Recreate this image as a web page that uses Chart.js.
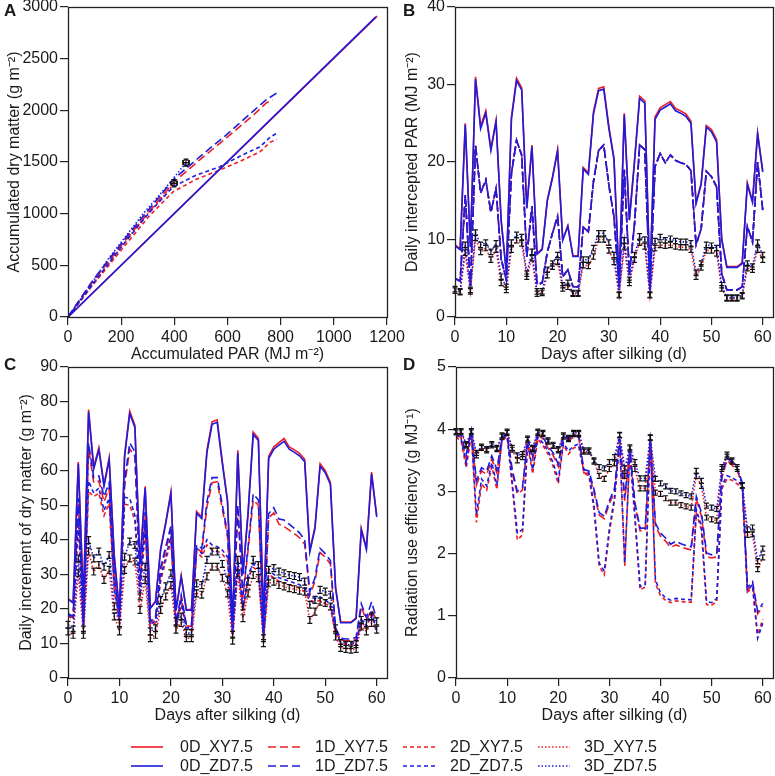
<!DOCTYPE html>
<html>
<head>
<meta charset="utf-8">
<script src="https://cdn.jsdelivr.net/npm/chart.js@4.4.0/dist/chart.umd.min.js"></script>
<style>
html, body { margin: 0; padding: 0; background: #fff; overflow: hidden; }
body { width: 775px; height: 776px; position: relative; font-family: "Liberation Sans", Arial, sans-serif; color: #1a1a1a; }
canvas { position: absolute; }
.tag { position: absolute; font-weight: bold; font-size: 17px; line-height: 20px; }
.leg-text { position: absolute; font-size: 16px; line-height: 18px; white-space: nowrap; }
.leg-line { position: absolute; }
</style>
</head>
<body>
<canvas id="chartA" width="420" height="373" style="left:0px;top:-5px"></canvas>
<canvas id="chartB" width="403" height="373" style="left:387px;top:-5px"></canvas>
<canvas id="chartC" width="420" height="374" style="left:0px;top:355px"></canvas>
<canvas id="chartD" width="403" height="374" style="left:387px;top:355px"></canvas>
<div class="tag" style="left:4px;top:1px">A</div>
<div class="tag" style="left:403px;top:1px">B</div>
<div class="tag" style="left:4px;top:355px">C</div>
<div class="tag" style="left:403px;top:355px">D</div>
<div id="legend"></div>
<script>
// Days after silking (x values for panels B, C, D)
const days = [0, 1, 2, 3, 4, 5, 6, 7, 8, 9, 10, 11, 12, 13, 14, 15, 16, 17, 18, 19, 20,
    21, 22, 23, 24, 25, 26, 27, 28, 29, 30, 31, 32, 33, 34, 35, 36, 37, 38, 39, 40,
    41, 42, 43, 44, 45, 46, 47, 48, 49, 50, 51, 52, 53, 54, 55, 56, 57, 58, 59, 60];
const dayTicks = [0, 10, 20, 30, 40, 50, 60];

// Panel A: accumulated PAR (x) and accumulated dry matter (y)
const accPar_0D_ZD = [0, 1158];
const accDm_0D_ZD = [0, 2905];
const accPar_0D_XY = [0, 1163];
const accDm_0D_XY = [0, 2912];
const accPar_1D_ZD = [0, 95, 221, 309, 396, 500, 597, 700, 745, 786];
const accDm_1D_ZD = [0, 360, 780, 1055, 1330, 1560, 1765, 2000, 2100, 2170];
const accPar_1D_XY = [0, 95, 221, 309, 396, 500, 597, 700, 745, 770];
const accDm_1D_XY = [0, 350, 760, 1030, 1300, 1530, 1735, 1960, 2070, 2100];
const accPar_2D_ZD = [0, 95, 221, 309, 396, 480, 572, 650, 723, 760, 792];
const accDm_2D_ZD = [0, 326, 745, 1019, 1261, 1370, 1455, 1560, 1648, 1740, 1787];
const accPar_2D_XY = [0, 95, 221, 309, 396, 480, 572, 650, 723, 760, 785];
const accDm_2D_XY = [0, 315, 713, 987, 1213, 1330, 1423, 1510, 1600, 1690, 1719];
const accPar_3D_ZD = [0, 158, 284, 371, 444];
const accDm_3D_ZD = [0, 584, 1003, 1261, 1494];
const accPar_3D_XY = [0, 158, 284, 350, 399];
const accDm_3D_XY = [0, 535, 955, 1140, 1294];
const obsPar = [399, 444];
const obsDm = [1294, 1494];

// Panel B: daily intercepted PAR
const parB_0D_ZD = [9.2, 8.7, 24.8, 9.0, 30.7, 24.3, 26.3, 21.5, 25.2, 12.4, 5.8, 25.5, 30.5, 29.3, 14.0, 22.0, 8.1, 8.7, 15.0, 17.9, 21.4,
    9.9, 11.7, 7.8, 7.8, 19.1, 18.4, 26.2, 29.2, 29.4, 24.3, 20.3, 4.5, 26.1, 12.5, 20.0, 28.2, 27.6, 4.5, 25.5, 26.7,
    27.1, 27.5, 26.6, 26.3, 25.9, 25.0, 14.6, 17.1, 24.5, 23.9, 22.6, 10.0, 6.4, 6.4, 6.4, 6.9, 17.1, 14.8, 23.6, 18.7];
const parB_0D_XY = [9.3, 8.8, 25.0, 9.1, 31.0, 24.6, 26.6, 21.7, 25.4, 12.5, 5.9, 25.8, 30.8, 29.6, 14.1, 22.2, 8.2, 8.8, 15.1, 18.1, 21.6,
    10.0, 11.8, 7.9, 7.9, 19.3, 18.6, 26.5, 29.5, 29.7, 24.6, 20.5, 4.5, 26.3, 12.6, 20.2, 28.5, 27.9, 4.5, 25.8, 27.0,
    27.4, 27.8, 26.9, 26.6, 26.2, 25.3, 14.8, 17.3, 24.7, 24.2, 22.9, 10.1, 6.5, 6.5, 6.5, 7.0, 17.3, 15.0, 23.8, 18.9];
const parB_1D2D = [5.0, 4.6, 15.7, 4.0, 22.1, 16.0, 17.7, 13.5, 16.6, 7.5, 4.8, 18.5, 22.8, 20.9, 7.8, 14.3, 4.2, 4.4, 8.4, 10.8, 13.0,
    5.2, 6.1, 3.9, 3.9, 11.6, 11.0, 17.5, 21.5, 22.2, 17.0, 12.9, 3.8, 19.0, 5.5, 12.0, 22.2, 21.6, 3.5, 19.4, 21.1,
    19.9, 20.9, 20.2, 19.9, 19.7, 18.9, 9.3, 11.4, 18.8, 18.1, 16.8, 5.6, 3.5, 3.5, 3.5, 3.9, 11.7, 9.7, 20.0, 13.8];
const parB_3D_ZD = [3.6, 3.3, 9.3, 3.5, 10.9, 9.3, 9.6, 8.4, 9.5, 5.2, 3.9, 9.6, 10.6, 10.3, 5.6, 8.4, 3.3, 3.3, 6.1, 6.9, 8.0,
    4.1, 4.4, 3.1, 3.1, 7.4, 7.4, 8.9, 10.8, 10.8, 9.6, 8.0, 2.9, 9.9, 4.8, 8.0, 10.4, 10.0, 2.9, 9.8, 10.3,
    9.9, 10.1, 9.8, 9.7, 9.7, 9.5, 5.7, 6.9, 9.3, 9.2, 8.9, 4.1, 2.5, 2.5, 2.5, 2.8, 6.9, 6.5, 9.6, 8.0];
const parB_3D_XY = [3.4, 3.2, 8.3, 3.3, 10.2, 8.4, 8.9, 7.4, 8.7, 4.4, 3.5, 8.7, 9.9, 9.5, 5.2, 7.6, 3.0, 3.1, 5.4, 6.5, 7.1,
    3.7, 3.9, 3.0, 3.0, 6.7, 6.6, 7.8, 10.0, 10.0, 8.6, 7.1, 2.8, 9.1, 4.4, 7.4, 9.6, 9.1, 2.8, 8.9, 9.3,
    9.2, 9.3, 9.1, 9.0, 9.0, 8.7, 5.2, 6.4, 8.6, 8.6, 8.2, 3.7, 2.4, 2.4, 2.4, 2.7, 6.3, 6.1, 8.7, 7.4];
const seB = 0.35;

// Panel C: daily increment of dry matter
const dmC_0D_ZD = [22.8, 21.7, 62.0, 22.0, 77.0, 60.5, 66.0, 55.5, 63.2, 35.0, 19.0, 64.0, 76.5, 72.5, 33.0, 55.0, 20.1, 22.0, 37.0, 44.7, 53.3,
    19.5, 29.3, 19.6, 19.6, 47.7, 46.1, 65.2, 73.4, 74.0, 62.0, 51.0, 16.0, 65.2, 30.0, 47.5, 70.5, 68.7, 17.0, 63.5, 66.2,
    67.4, 68.5, 66.2, 65.3, 64.3, 62.6, 36.5, 43.2, 61.3, 59.4, 56.0, 26.0, 16.0, 16.0, 16.0, 17.2, 42.9, 37.2, 59.0, 46.6];
const dmC_0D_XY = [23.0, 21.9, 62.5, 22.2, 77.7, 61.1, 66.7, 56.0, 63.8, 35.3, 19.2, 64.6, 77.2, 73.2, 33.3, 55.5, 20.3, 22.2, 37.4, 45.2, 53.9,
    19.7, 29.6, 19.8, 19.8, 48.2, 46.6, 65.9, 74.1, 74.7, 62.6, 51.5, 16.2, 65.9, 30.3, 48.0, 71.2, 69.4, 17.2, 64.2, 66.9,
    68.1, 69.3, 66.9, 66.0, 65.0, 63.3, 36.9, 43.7, 62.0, 60.0, 56.6, 26.3, 16.2, 16.2, 16.2, 17.4, 43.3, 37.6, 59.6, 47.0];
const dmC_1D_ZD = [18.7, 17.8, 52.0, 16.0, 68.0, 58.0, 58.5, 52.5, 56.5, 30.0, 17.5, 57.0, 68.0, 65.5, 28.0, 48.0, 16.5, 17.5, 32.0, 38.0, 44.0,
    16.0, 24.0, 15.5, 15.5, 38.5, 37.5, 51.0, 58.0, 58.0, 50.0, 42.0, 14.0, 50.0, 24.0, 38.0, 53.3, 51.5, 13.0, 47.5, 49.3,
    46.0, 45.7, 44.5, 43.3, 42.0, 40.0, 25.0, 29.0, 37.5, 36.0, 34.0, 14.5, 11.5, 11.3, 11.3, 11.8, 21.5, 17.5, 22.0, 17.0];
const dmC_1D_XY = [18.3, 17.4, 50.5, 15.6, 66.5, 56.5, 57.0, 51.0, 55.0, 29.0, 17.0, 55.5, 66.3, 64.0, 27.2, 46.8, 16.0, 17.0, 31.0, 37.0, 42.8,
    15.5, 23.3, 15.0, 15.0, 37.5, 36.5, 49.5, 56.5, 56.8, 48.8, 41.0, 13.6, 48.5, 23.2, 37.0, 51.5, 50.0, 12.6, 46.3, 47.8,
    44.5, 43.8, 42.8, 41.8, 40.6, 38.7, 24.0, 28.0, 36.3, 35.0, 33.0, 14.0, 11.0, 10.8, 10.8, 11.3, 20.5, 16.8, 19.6, 16.8];
const dmC_2D_ZD = [18.5, 17.3, 46.0, 15.5, 57.0, 53.5, 55.0, 48.5, 52.0, 26.0, 16.5, 52.3, 52.0, 47.0, 25.0, 44.0, 15.5, 16.5, 29.0, 35.0, 41.0,
    15.0, 22.0, 14.5, 14.5, 37.5, 36.0, 40.0, 38.5, 38.0, 37.0, 35.0, 13.0, 34.0, 20.0, 30.0, 33.0, 32.0, 12.0, 31.0, 30.0,
    29.0, 28.5, 28.0, 27.5, 27.0, 26.0, 23.5, 23.0, 23.5, 22.5, 21.5, 13.5, 10.5, 10.3, 10.3, 10.5, 17.0, 15.0, 19.5, 13.5];
const dmC_2D_XY = [18.0, 17.0, 44.0, 15.0, 54.0, 52.5, 53.5, 47.0, 50.5, 25.0, 16.0, 50.3, 50.0, 45.5, 24.0, 42.5, 15.0, 16.0, 28.0, 34.0, 39.5,
    14.5, 21.2, 14.0, 14.0, 36.5, 35.0, 38.5, 37.0, 36.8, 35.8, 34.0, 12.5, 32.8, 19.3, 29.0, 32.0, 31.0, 11.6, 30.0, 29.0,
    28.0, 27.5, 27.0, 26.5, 26.0, 25.0, 22.5, 22.0, 22.5, 21.5, 20.5, 13.0, 10.0, 9.8, 9.8, 10.0, 16.2, 14.4, 18.5, 13.0];
const dmC_3D_ZD = [15.4, 14.0, 34.6, 14.0, 39.9, 34.6, 36.6, 32.2, 35.6, 20.7, 15.9, 35.1, 39.5, 38.5, 23.6, 32.2, 13.5, 14.4, 22.6, 26.5, 30.3,
    16.4, 17.8, 13.0, 13.0, 27.4, 26.9, 34.2, 36.6, 36.6, 33.0, 28.5, 12.5, 34.2, 20.7, 27.9, 34.2, 32.7, 11.5, 31.3, 31.8,
    30.8, 30.3, 29.8, 29.5, 29.2, 27.9, 21.2, 22.6, 25.5, 25.0, 24.1, 14.4, 10.1, 9.6, 9.6, 9.8, 16.8, 15.9, 17.8, 16.4];
const dmC_3D_XY = [13.5, 12.5, 30.3, 12.5, 36.6, 30.8, 32.7, 28.4, 31.3, 17.8, 13.5, 31.3, 34.6, 33.7, 19.7, 28.4, 11.5, 12.5, 19.7, 23.6, 26.9,
    14.0, 15.9, 11.5, 11.5, 24.5, 24.1, 29.4, 32.2, 32.2, 29.0, 24.5, 10.8, 30.3, 17.3, 24.5, 29.8, 28.9, 10.1, 27.4, 27.9,
    26.9, 26.5, 26.0, 25.7, 25.3, 25.0, 16.8, 19.2, 22.1, 21.7, 20.7, 12.0, 8.7, 8.4, 8.2, 8.4, 14.9, 13.5, 15.9, 14.0];
const seC = 1.0;

// Panel D: radiation use efficiency
const rueD_1D_ZD = [3.95, 3.90, 3.60, 3.97, 3.17, 3.38, 3.33, 3.57, 3.35, 3.87, 3.92, 3.35, 3.00, 3.06, 3.84, 3.57, 3.92, 3.87, 3.73, 3.62, 3.44,
    3.89, 3.84, 3.89, 3.89, 3.35, 3.33, 3.03, 2.66, 2.60, 2.85, 3.05, 3.85, 2.90, 3.70, 2.82, 2.41, 2.41, 3.84, 2.49, 2.33,
    2.25, 2.15, 2.20, 2.16, 2.13, 2.11, 2.92, 2.66, 2.01, 1.98, 2.01, 3.27, 3.54, 3.46, 3.38, 3.14, 1.45, 1.55, 1.07, 1.20];
const rueD_1D_XY = [3.92, 3.86, 3.52, 3.95, 3.10, 3.33, 3.27, 3.52, 3.30, 3.85, 3.90, 3.30, 2.96, 3.02, 3.82, 3.52, 3.90, 3.85, 3.70, 3.58, 3.40,
    3.87, 3.82, 3.87, 3.87, 3.30, 3.28, 2.98, 2.62, 2.56, 2.80, 3.00, 3.83, 2.85, 3.67, 2.77, 2.37, 2.37, 3.82, 2.44, 2.28,
    2.20, 2.10, 2.14, 2.11, 2.08, 2.06, 2.88, 2.60, 1.95, 1.93, 1.95, 3.22, 3.50, 3.42, 3.34, 3.10, 1.40, 1.50, 1.03, 1.15];
const rueD_2D_ZD = [3.92, 3.84, 3.45, 3.95, 2.62, 3.20, 3.09, 3.46, 3.10, 3.85, 3.90, 3.14, 2.33, 2.39, 3.78, 3.35, 3.87, 3.78, 3.65, 3.46, 3.19,
    3.78, 3.65, 3.73, 3.76, 3.35, 3.30, 2.76, 1.85, 1.72, 2.40, 2.90, 3.82, 1.85, 3.65, 2.60, 1.47, 1.50, 3.82, 1.58, 1.37,
    1.29, 1.25, 1.28, 1.27, 1.26, 1.26, 2.71, 2.44, 1.23, 1.21, 1.28, 3.09, 3.25, 3.22, 3.17, 3.09, 1.42, 1.50, 0.64, 0.88];
const rueD_2D_XY = [3.88, 3.80, 3.38, 3.92, 2.50, 3.12, 3.02, 3.40, 3.03, 3.82, 3.88, 3.08, 2.22, 2.30, 3.75, 3.28, 3.84, 3.74, 3.60, 3.40, 3.12,
    3.75, 3.60, 3.70, 3.72, 3.30, 3.25, 2.70, 1.80, 1.66, 2.34, 2.85, 3.80, 1.80, 3.62, 2.55, 1.42, 1.46, 3.80, 1.52, 1.32,
    1.25, 1.21, 1.24, 1.23, 1.22, 1.22, 2.65, 2.38, 1.18, 1.17, 1.23, 3.04, 3.20, 3.18, 3.12, 3.05, 1.38, 1.45, 0.70, 0.95];
const rueD_3D_ZD = [3.97, 3.97, 3.76, 3.97, 3.62, 3.72, 3.68, 3.76, 3.70, 3.90, 3.96, 3.70, 3.58, 3.60, 3.85, 3.70, 3.96, 3.94, 3.82, 3.75, 3.68,
    3.90, 3.86, 3.94, 3.94, 3.66, 3.66, 3.50, 3.39, 3.37, 3.47, 3.55, 3.91, 3.37, 3.71, 3.47, 3.21, 3.21, 3.87, 3.20, 3.13,
    3.08, 3.01, 3.00, 2.97, 2.94, 2.92, 3.33, 3.17, 2.77, 2.74, 2.72, 3.39, 3.59, 3.50, 3.39, 3.10, 2.39, 2.42, 1.88, 2.08];
const rueD_3D_XY = [3.95, 3.95, 3.74, 3.95, 3.58, 3.70, 3.66, 3.74, 3.68, 3.88, 3.94, 3.67, 3.50, 3.55, 3.83, 3.68, 3.94, 3.92, 3.80, 3.73, 3.66,
    3.88, 3.84, 3.92, 3.92, 3.64, 3.64, 3.48, 3.25, 3.20, 3.36, 3.45, 3.90, 3.25, 3.69, 3.36, 3.05, 3.05, 3.86, 2.98, 2.96,
    2.89, 2.82, 2.82, 2.78, 2.76, 2.74, 3.25, 3.09, 2.58, 2.55, 2.53, 3.36, 3.56, 3.48, 3.36, 3.09, 2.30, 2.31, 1.75, 1.94];
const seD = 0.04;

// Colours and line styles
const red = '#ee1c24';
const blue = '#1c1ce0';
const dashes = { solid: [], long: [8, 4], short: [4, 3], dotted: [1.5, 2] };

Chart.defaults.font.family = '"Liberation Sans", Arial, sans-serif';
Chart.defaults.font.size = 16;
Chart.defaults.color = '#1a1a1a';

function dayPoints(values) {
    return days.map((d, i) => ({ x: d, y: values[i] }));
}

function pairPoints(xs, ys) {
    return xs.map((x, i) => ({ x: x, y: ys[i] }));
}

function lineSet(label, points, color, dash, extra) {
    return Object.assign({
        label: label,
        data: points,
        borderColor: color,
        backgroundColor: color,
        borderWidth: 1.6,
        borderDash: dashes[dash],
        pointRadius: 0,
        fill: false,
        tension: 0
    }, extra || {});
}

// Linear axis with fixed thickness so plot areas line up with the reference
function axis(horizontal, min, max, step, title, titlePad, size, tickValues) {
    return {
        type: 'linear',
        min: min,
        max: max,
        ticks: {
            stepSize: step,
            autoSkip: false,
            maxRotation: 0,
            padding: horizontal ? 3 : 2,
            color: '#1a1a1a',
            callback: v => String(v)
        },
        grid: { drawOnChartArea: false, drawTicks: true, tickLength: 8, color: '#222', lineWidth: 1.2 },
        border: { display: false },
        title: {
            display: true,
            text: title,
            color: '#1a1a1a',
            font: { size: 16 },
            padding: horizontal ? { top: 0, bottom: titlePad } : { top: titlePad, bottom: 0 }
        },
        afterFit(scale) {
            if (horizontal) scale.height = size; else scale.width = size;
        },
        afterBuildTicks(scale) {
            if (tickValues) scale.ticks = tickValues.map(v => ({ value: v }));
        }
    };
}

// Box around the plotting area
const framePlugin = {
    id: 'frame',
    afterDraw(chart) {
        const { left, top, right, bottom } = chart.chartArea;
        const ctx = chart.ctx;
        ctx.save();
        ctx.strokeStyle = '#222';
        ctx.lineWidth = 1.3;
        ctx.setLineDash([]);
        ctx.strokeRect(Math.round(left) + 0.5, Math.round(top) + 0.5, Math.round(right - left), Math.round(bottom - top));
        ctx.restore();
    }
};

// Black error bars for datasets that carry errY / errX
const errorBarPlugin = {
    id: 'errorBars',
    afterDatasetsDraw(chart) {
        const ctx = chart.ctx;
        const xs = chart.scales.x;
        const ys = chart.scales.y;
        ctx.save();
        ctx.strokeStyle = '#111';
        ctx.lineWidth = 1.2;
        ctx.setLineDash([]);
        chart.data.datasets.forEach(ds => {
            if (!ds.errY && !ds.errX) return;
            ds.data.forEach(p => {
                const px = xs.getPixelForValue(p.x);
                const py = ys.getPixelForValue(p.y);
                ctx.beginPath();
                if (ds.errY) {
                    const y1 = ys.getPixelForValue(p.y - ds.errY);
                    const y2 = ys.getPixelForValue(p.y + ds.errY);
                    ctx.moveTo(px, y1); ctx.lineTo(px, y2);
                    ctx.moveTo(px - 2.5, y1); ctx.lineTo(px + 2.5, y1);
                    ctx.moveTo(px - 2.5, y2); ctx.lineTo(px + 2.5, y2);
                }
                if (ds.errX) {
                    const x1 = xs.getPixelForValue(p.x - ds.errX);
                    const x2 = xs.getPixelForValue(p.x + ds.errX);
                    ctx.moveTo(x1, py); ctx.lineTo(x2, py);
                    ctx.moveTo(x1, py - 2.5); ctx.lineTo(x1, py + 2.5);
                    ctx.moveTo(x2, py - 2.5); ctx.lineTo(x2, py + 2.5);
                }
                ctx.stroke();
            });
        });
        ctx.restore();
    }
};

function makeChart(id, datasets, xAxis, yAxis, padRight) {
    return new Chart(document.getElementById(id), {
        type: 'line',
        data: { datasets: datasets },
        options: {
            responsive: false,
            animation: false,
            layout: { padding: { top: 12, right: padRight, bottom: 0, left: 0 } },
            scales: { x: xAxis, y: yAxis },
            plugins: { legend: { display: false }, tooltip: { enabled: false } }
        },
        plugins: [framePlugin, errorBarPlugin]
    });
}

// Panel A (blue datasets first so they are drawn on top)
makeChart('chartA', [
    lineSet('0D_ZD7.5', pairPoints(accPar_0D_ZD, accDm_0D_ZD), blue, 'solid'),
    lineSet('1D_ZD7.5', pairPoints(accPar_1D_ZD, accDm_1D_ZD), blue, 'long'),
    lineSet('2D_ZD7.5', pairPoints(accPar_2D_ZD, accDm_2D_ZD), blue, 'short'),
    lineSet('3D_ZD7.5', pairPoints(accPar_3D_ZD, accDm_3D_ZD), blue, 'dotted'),
    lineSet('obs', pairPoints(obsPar, obsDm), '#111', 'solid',
        { showLine: false, pointRadius: 3, pointBorderColor: '#111', pointBackgroundColor: 'rgba(0,0,0,0)', pointBorderWidth: 1.2, errX: 12, errY: 35 }),
    lineSet('0D_XY7.5', pairPoints(accPar_0D_XY, accDm_0D_XY), red, 'solid'),
    lineSet('1D_XY7.5', pairPoints(accPar_1D_XY, accDm_1D_XY), red, 'long'),
    lineSet('2D_XY7.5', pairPoints(accPar_2D_XY, accDm_2D_XY), red, 'short'),
    lineSet('3D_XY7.5', pairPoints(accPar_3D_XY, accDm_3D_XY), red, 'dotted')
],
    axis(true, 0, 1200, 200, 'Accumulated PAR (MJ m\u207B\u00B2)', 4, 51, null),
    axis(false, 0, 3000, 500, 'Accumulated dry matter (g m\u207B\u00B2)', 5, 68, null),
    33);

// Panel B
makeChart('chartB', [
    lineSet('0D_ZD7.5', dayPoints(parB_0D_ZD), blue, 'solid'),
    lineSet('1D_ZD7.5', dayPoints(parB_1D2D), blue, 'long'),
    lineSet('2D_ZD7.5', dayPoints(parB_1D2D), blue, 'short'),
    lineSet('3D_ZD7.5', dayPoints(parB_3D_ZD), blue, 'dotted', { errY: seB }),
    lineSet('0D_XY7.5', dayPoints(parB_0D_XY), red, 'solid'),
    lineSet('1D_XY7.5', dayPoints(parB_1D2D), red, 'long'),
    lineSet('2D_XY7.5', dayPoints(parB_1D2D), red, 'short'),
    lineSet('3D_XY7.5', dayPoints(parB_3D_XY), red, 'dotted', { errY: seB })
],
    axis(true, 0, 62, 10, 'Days after silking (d)', 4, 51, dayTicks),
    axis(false, 0, 40, 10, 'Daily intercepted PAR (MJ m\u207B\u00B2)', 16, 68, null),
    17);

// Panel C
makeChart('chartC', [
    lineSet('0D_ZD7.5', dayPoints(dmC_0D_ZD), blue, 'solid'),
    lineSet('1D_ZD7.5', dayPoints(dmC_1D_ZD), blue, 'long'),
    lineSet('2D_ZD7.5', dayPoints(dmC_2D_ZD), blue, 'short'),
    lineSet('3D_ZD7.5', dayPoints(dmC_3D_ZD), blue, 'dotted', { errY: seC }),
    lineSet('0D_XY7.5', dayPoints(dmC_0D_XY), red, 'solid'),
    lineSet('1D_XY7.5', dayPoints(dmC_1D_XY), red, 'long'),
    lineSet('2D_XY7.5', dayPoints(dmC_2D_XY), red, 'short'),
    lineSet('3D_XY7.5', dayPoints(dmC_3D_XY), red, 'dotted', { errY: seC })
],
    axis(true, 0, 62, 10, 'Days after silking (d)', 4, 51, dayTicks),
    axis(false, 0, 90, 10, 'Daily increment of dry matter (g m\u207B\u00B2)', 17, 68, null),
    33);

// Panel D
makeChart('chartD', [
    lineSet('1D_ZD7.5', dayPoints(rueD_1D_ZD), blue, 'long'),
    lineSet('2D_ZD7.5', dayPoints(rueD_2D_ZD), blue, 'short'),
    lineSet('3D_ZD7.5', dayPoints(rueD_3D_ZD), blue, 'dotted', { errY: seD }),
    lineSet('1D_XY7.5', dayPoints(rueD_1D_XY), red, 'long'),
    lineSet('2D_XY7.5', dayPoints(rueD_2D_XY), red, 'short'),
    lineSet('3D_XY7.5', dayPoints(rueD_3D_XY), red, 'dotted', { errY: seD })
],
    axis(true, 0, 62, 10, 'Days after silking (d)', 4, 51, dayTicks),
    axis(false, 0, 5, 1, 'Radiation use efficiency (g MJ\u207B\u00B9)', 16, 69, null),
    17);

// Shared legend below the panels
const legendLabels = [
    ['0D_XY7.5', '0D_ZD7.5'], ['1D_XY7.5', '1D_ZD7.5'], ['2D_XY7.5', '2D_ZD7.5'], ['3D_XY7.5', '3D_ZD7.5']
];
const legendDash = ['solid', 'long', 'short', 'dotted'];
const legendColors = [red, blue];
const legendLineX = [131, 268, 403, 538];
const legendTextX = [180, 315, 450, 584];
const legendRowY = [747, 766];

const legendBox = document.getElementById('legend');
legendLabels.forEach((pair, col) => {
    pair.forEach((label, row) => {
        const svg = document.createElementNS('http://www.w3.org/2000/svg', 'svg');
        svg.setAttribute('class', 'leg-line');
        svg.setAttribute('width', '34');
        svg.setAttribute('height', '6');
        svg.style.left = legendLineX[col] + 'px';
        svg.style.top = (legendRowY[row] - 3) + 'px';
        const ln = document.createElementNS('http://www.w3.org/2000/svg', 'line');
        ln.setAttribute('x1', '0');
        ln.setAttribute('x2', '32');
        ln.setAttribute('y1', '3');
        ln.setAttribute('y2', '3');
        ln.setAttribute('stroke', legendColors[row]);
        ln.setAttribute('stroke-width', '1.6');
        if (dashes[legendDash[col]].length) ln.setAttribute('stroke-dasharray', dashes[legendDash[col]].join(' '));
        svg.appendChild(ln);
        legendBox.appendChild(svg);

        const txt = document.createElement('div');
        txt.className = 'leg-text';
        txt.innerText = label;
        txt.style.left = legendTextX[col] + 'px';
        txt.style.top = (legendRowY[row] - 9) + 'px';
        legendBox.appendChild(txt);
    });
});
</script>
</body>
</html>
